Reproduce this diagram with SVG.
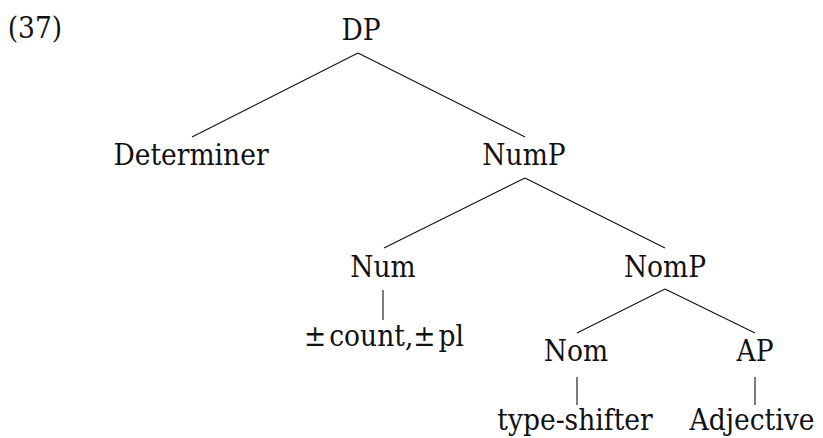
<svg xmlns="http://www.w3.org/2000/svg" width="823" height="438" viewBox="0 0 823 438">
<style>
text { font-family: "DejaVu Serif Condensed", "DejaVu Serif", serif; font-stretch: condensed; font-size: 29.5px; fill: #111; text-anchor: middle; }
.edge { stroke: #111; stroke-width: 1.1; fill: none; }
</style>
<rect width="823" height="438" fill="#fff"/>
<text x="35" y="38">(37)</text>
<g id="connectors">
<line class="edge" x1="358" y1="53" x2="192" y2="137"/>
<line class="edge" x1="358" y1="53" x2="525" y2="137"/>
<line class="edge" x1="525" y1="178" x2="384" y2="248"/>
<line class="edge" x1="525" y1="178" x2="665" y2="248"/>
<line class="edge" x1="383" y1="290" x2="383" y2="320"/>
<line class="edge" x1="665" y1="289" x2="577" y2="333"/>
<line class="edge" x1="665" y1="289" x2="755" y2="333"/>
<line class="edge" x1="577" y1="377" x2="577" y2="405"/>
<line class="edge" x1="755" y1="377" x2="755" y2="405"/>
</g>
<g id="DP"><text x="361" y="40">DP</text></g>
<g id="Determiner"><text x="191" y="164.5">Determiner</text></g>
<g id="NumP"><text x="524" y="164.5">NumP</text></g>
<g id="Num"><text x="383" y="277">Num</text></g>
<g id="features"><text x="384" y="346">±<tspan dx="3">count,±</tspan><tspan dx="3">pl</tspan></text></g>
<g id="NomP"><text x="665" y="277">NomP</text></g>
<g id="Nom"><text x="576" y="361">Nom</text></g>
<g id="AP"><text x="755" y="361">AP</text></g>
<g id="typeshifter"><text x="575" y="430">type-shifter</text></g>
<g id="Adjective"><text x="752" y="430">Adjective</text></g>
</svg>
